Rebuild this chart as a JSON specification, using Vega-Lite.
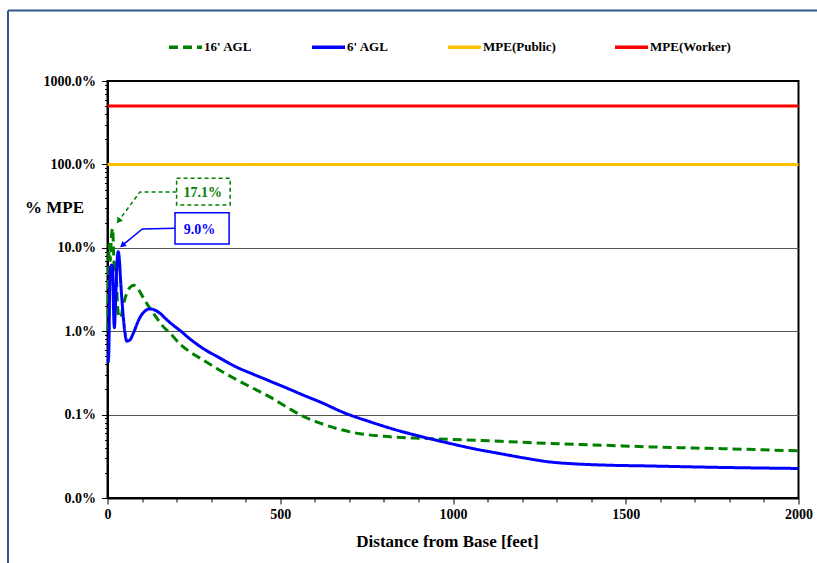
{
  "$schema": "https://vega.github.io/schema/vega-lite/v6.json",
  "width": 691,
  "height": 417,
  "autosize": "none",
  "padding": {"left": 107.5, "top": 81, "right": 18.5, "bottom": 65},
  "background": "white",
  "config": {
    "font": "Liberation Serif",
    "view": {"stroke": "black", "strokeWidth": 2},
    "axis": {
      "labelFont": "Liberation Serif",
      "labelFontWeight": "bold",
      "labelFontSize": 14,
      "labelColor": "black",
      "titleFont": "Liberation Serif",
      "titleFontWeight": "bold",
      "titleFontSize": 17,
      "titleColor": "black",
      "tickColor": "black",
      "domainColor": "black",
      "domainWidth": 2
    },
    "legend": {
      "orient": "none",
      "legendX": 59.5,
      "legendY": -52.5,
      "direction": "horizontal",
      "symbolType": "stroke",
      "symbolSize": 1089,
      "symbolStrokeWidth": 3.5,
      "labelFont": "Liberation Serif",
      "labelFontWeight": "bold",
      "labelFontSize": 13,
      "labelColor": "black",
      "labelOffset": 0,
      "columnPadding": 52,
      "gridAlign": "each",
      "padding": 0
    }
  },
  "datasets": {
    "curves": [
      {"s": "16' AGL", "ft": 1, "pct": 1.0},
      {"s": "16' AGL", "ft": 3, "pct": 4.5},
      {"s": "16' AGL", "ft": 5, "pct": 11},
      {"s": "16' AGL", "ft": 8, "pct": 7},
      {"s": "16' AGL", "ft": 11, "pct": 13},
      {"s": "16' AGL", "ft": 15, "pct": 17.1},
      {"s": "16' AGL", "ft": 18, "pct": 8},
      {"s": "16' AGL", "ft": 21, "pct": 5},
      {"s": "16' AGL", "ft": 24, "pct": 7},
      {"s": "16' AGL", "ft": 28, "pct": 2.5},
      {"s": "16' AGL", "ft": 33, "pct": 1.5},
      {"s": "16' AGL", "ft": 38, "pct": 1.45},
      {"s": "16' AGL", "ft": 45, "pct": 2.0},
      {"s": "16' AGL", "ft": 55, "pct": 2.8},
      {"s": "16' AGL", "ft": 65, "pct": 3.35},
      {"s": "16' AGL", "ft": 76, "pct": 3.55},
      {"s": "16' AGL", "ft": 90, "pct": 3.15},
      {"s": "16' AGL", "ft": 104, "pct": 2.5},
      {"s": "16' AGL", "ft": 122, "pct": 1.9},
      {"s": "16' AGL", "ft": 142, "pct": 1.45},
      {"s": "16' AGL", "ft": 160, "pct": 1.15},
      {"s": "16' AGL", "ft": 181, "pct": 0.95},
      {"s": "16' AGL", "ft": 210, "pct": 0.7},
      {"s": "16' AGL", "ft": 240, "pct": 0.56},
      {"s": "16' AGL", "ft": 277, "pct": 0.45},
      {"s": "16' AGL", "ft": 320, "pct": 0.35},
      {"s": "16' AGL", "ft": 374, "pct": 0.262},
      {"s": "16' AGL", "ft": 420, "pct": 0.208},
      {"s": "16' AGL", "ft": 471, "pct": 0.162},
      {"s": "16' AGL", "ft": 520, "pct": 0.122},
      {"s": "16' AGL", "ft": 567, "pct": 0.095},
      {"s": "16' AGL", "ft": 615, "pct": 0.079},
      {"s": "16' AGL", "ft": 664, "pct": 0.068},
      {"s": "16' AGL", "ft": 720, "pct": 0.06},
      {"s": "16' AGL", "ft": 800, "pct": 0.055},
      {"s": "16' AGL", "ft": 900, "pct": 0.052},
      {"s": "16' AGL", "ft": 992, "pct": 0.0505},
      {"s": "16' AGL", "ft": 1140, "pct": 0.0478},
      {"s": "16' AGL", "ft": 1282, "pct": 0.045},
      {"s": "16' AGL", "ft": 1430, "pct": 0.043},
      {"s": "16' AGL", "ft": 1571, "pct": 0.041},
      {"s": "16' AGL", "ft": 1780, "pct": 0.039},
      {"s": "16' AGL", "ft": 2000, "pct": 0.0368},
      {"s": "6' AGL", "ft": 2, "pct": 0.42},
      {"s": "6' AGL", "ft": 4, "pct": 0.6},
      {"s": "6' AGL", "ft": 6, "pct": 2.5},
      {"s": "6' AGL", "ft": 9, "pct": 5.8},
      {"s": "6' AGL", "ft": 12, "pct": 6.2},
      {"s": "6' AGL", "ft": 15, "pct": 5.5},
      {"s": "6' AGL", "ft": 18, "pct": 1.5},
      {"s": "6' AGL", "ft": 20, "pct": 1.1},
      {"s": "6' AGL", "ft": 23, "pct": 2},
      {"s": "6' AGL", "ft": 27, "pct": 6},
      {"s": "6' AGL", "ft": 31, "pct": 9.0},
      {"s": "6' AGL", "ft": 34, "pct": 7.5},
      {"s": "6' AGL", "ft": 38, "pct": 4},
      {"s": "6' AGL", "ft": 44, "pct": 1.8},
      {"s": "6' AGL", "ft": 50, "pct": 1.0},
      {"s": "6' AGL", "ft": 56, "pct": 0.76},
      {"s": "6' AGL", "ft": 64, "pct": 0.78},
      {"s": "6' AGL", "ft": 75, "pct": 0.95},
      {"s": "6' AGL", "ft": 88, "pct": 1.3},
      {"s": "6' AGL", "ft": 100, "pct": 1.6},
      {"s": "6' AGL", "ft": 123, "pct": 1.85},
      {"s": "6' AGL", "ft": 147, "pct": 1.7},
      {"s": "6' AGL", "ft": 171, "pct": 1.38},
      {"s": "6' AGL", "ft": 190, "pct": 1.18},
      {"s": "6' AGL", "ft": 210, "pct": 1.02},
      {"s": "6' AGL", "ft": 240, "pct": 0.8},
      {"s": "6' AGL", "ft": 277, "pct": 0.62},
      {"s": "6' AGL", "ft": 320, "pct": 0.49},
      {"s": "6' AGL", "ft": 374, "pct": 0.37},
      {"s": "6' AGL", "ft": 420, "pct": 0.307},
      {"s": "6' AGL", "ft": 471, "pct": 0.251},
      {"s": "6' AGL", "ft": 520, "pct": 0.207},
      {"s": "6' AGL", "ft": 567, "pct": 0.171},
      {"s": "6' AGL", "ft": 620, "pct": 0.139},
      {"s": "6' AGL", "ft": 683, "pct": 0.106},
      {"s": "6' AGL", "ft": 760, "pct": 0.082},
      {"s": "6' AGL", "ft": 838, "pct": 0.065},
      {"s": "6' AGL", "ft": 920, "pct": 0.053},
      {"s": "6' AGL", "ft": 992, "pct": 0.045},
      {"s": "6' AGL", "ft": 1060, "pct": 0.039},
      {"s": "6' AGL", "ft": 1137, "pct": 0.034},
      {"s": "6' AGL", "ft": 1210, "pct": 0.030},
      {"s": "6' AGL", "ft": 1282, "pct": 0.027},
      {"s": "6' AGL", "ft": 1350, "pct": 0.0257},
      {"s": "6' AGL", "ft": 1426, "pct": 0.0249},
      {"s": "6' AGL", "ft": 1571, "pct": 0.0242},
      {"s": "6' AGL", "ft": 1765, "pct": 0.0233},
      {"s": "6' AGL", "ft": 2000, "pct": 0.0226},
      {"s": "MPE(Public)", "ft": 0, "pct": 100},
      {"s": "MPE(Public)", "ft": 2000, "pct": 100},
      {"s": "MPE(Worker)", "ft": 0, "pct": 500},
      {"s": "MPE(Worker)", "ft": 2000, "pct": 500}
    ]
  },
  "resolve": {"axis": {"x": "independent"}},
  "layer": [
    {
      "layer": [
        {
          "data": {"name": "curves"},
          "mark": {"type": "line", "strokeWidth": 3, "interpolate": "monotone"},
          "encoding": {
            "x": {
              "field": "ft",
              "type": "quantitative",
              "scale": {"type": "linear", "domain": [0, 2000], "nice": false, "zero": false},
              "axis": {
                "title": "Distance from Base [feet]",
                "orient": "bottom",
                "values": [0, 500, 1000, 1500, 2000],
                "format": "d",
                "labelFlush": false,
                "labelOverlap": false,
                "grid": false,
                "tickSize": 6,
                "labelPadding": 3,
                "titleX": 339.5,
                "titleY": 43,
                "titleBaseline": "middle"
              }
            },
            "y": {
              "field": "pct",
              "type": "quantitative",
              "scale": {"type": "log", "domain": [0.01, 1000], "nice": false},
              "axis": {
                "title": "% MPE",
                "values": [0.01, 0.02, 0.03, 0.04, 0.05, 0.06, 0.07, 0.08, 0.09, 0.1, 0.2, 0.3, 0.4, 0.5, 0.6, 0.7, 0.8, 0.9, 1, 2, 3, 4, 5, 6, 7, 8, 9, 10, 20, 30, 40, 50, 60, 70, 80, 90, 100, 200, 300, 400, 500, 600, 700, 800, 900, 1000],
                "labelExpr": "indexof([0.01, 0.1, 1, 10, 100, 1000], datum.value) >= 0 ? format(datum.value, '.1f') + '%' : ''",
                "labelOverlap": "greedy",
                "tickSize": {"condition": {"test": "indexof([0.01, 0.1, 1, 10, 100, 1000], datum.value) >= 0", "value": 6}, "value": 3},
                "labelPadding": 6,
                "grid": true,
                "gridColor": "#555555",
                "gridWidth": 1,
                "gridOpacity": {"condition": {"test": "indexof([0.1, 1, 10], datum.value) >= 0", "value": 1}, "value": 0},
                "titleAngle": 0,
                "titleAlign": "center",
                "titleBaseline": "middle",
                "titleX": -53.5,
                "titleY": 126,
                "titleFontSize": 17
              }
            },
            "color": {
              "field": "s",
              "type": "nominal",
              "title": null,
              "scale": {"domain": ["16' AGL", "6' AGL", "MPE(Public)", "MPE(Worker)"], "range": ["#008000", "#0000FF", "#FFC000", "#FF0000"]}
            },
            "strokeDash": {
              "field": "s",
              "type": "nominal",
              "title": null,
              "scale": {"domain": ["16' AGL", "6' AGL", "MPE(Public)", "MPE(Worker)"], "range": [[9, 5], [1, 0], [1, 0], [1, 0]]}
            }
          }
        },
        {
          "data": {"values": [{}]},
          "mark": {"type": "rule", "color": "#2E5A8A", "strokeWidth": 2},
          "encoding": {"x": {"datum": -288}, "x2": {"datum": 2200}, "y": {"datum": 7000}}
        },
        {
          "data": {"values": [{}]},
          "mark": {"type": "rule", "color": "#2E5A8A", "strokeWidth": 2},
          "encoding": {"x": {"datum": -288}, "y": {"datum": 7000}, "y2": {"datum": 0.00001}}
        },
        {
          "data": {"values": [{"xa": 200, "xb": 355, "ya": 68, "yb": 32.6}]},
          "mark": {"type": "rect", "fillOpacity": 0, "stroke": "#008000", "strokeWidth": 1.5, "strokeDash": [4, 3]},
          "encoding": {
            "x": {"field": "xa", "type": "quantitative"},
            "x2": {"field": "xb"},
            "y": {"field": "ya", "type": "quantitative"},
            "y2": {"field": "yb"}
          }
        },
        {
          "data": {"values": [{"xa": 195.5, "xb": 352, "ya": 26.4, "yb": 11.1}]},
          "mark": {"type": "rect", "fillOpacity": 0, "stroke": "#0000FF", "strokeWidth": 1.5},
          "encoding": {
            "x": {"field": "xa", "type": "quantitative"},
            "x2": {"field": "xb"},
            "y": {"field": "ya", "type": "quantitative"},
            "y2": {"field": "yb"}
          }
        },
        {
          "data": {"values": [{"i": 1, "ft": 200, "pct": 46.7}, {"i": 2, "ft": 94, "pct": 46.7}, {"i": 3, "ft": 32, "pct": 21}]},
          "mark": {"type": "line", "color": "#008000", "strokeWidth": 1.5, "strokeDash": [4, 3]},
          "encoding": {
            "x": {"field": "ft", "type": "quantitative"},
            "y": {"field": "pct", "type": "quantitative"},
            "order": {"field": "i"}
          }
        },
        {
          "data": {"values": [{"i": 1, "ft": 195.5, "pct": 17.1}, {"i": 2, "ft": 100.8, "pct": 16.8}, {"i": 3, "ft": 43, "pct": 10.7}]},
          "mark": {"type": "line", "color": "#0000FF", "strokeWidth": 1.5},
          "encoding": {
            "x": {"field": "ft", "type": "quantitative"},
            "y": {"field": "pct", "type": "quantitative"},
            "order": {"field": "i"}
          }
        },
        {
          "data": {"values": [{"ft": 32, "pct": 21}]},
          "mark": {"type": "point", "shape": "triangle-up", "filled": true, "color": "#008000", "size": 45, "angle": 217, "opacity": 1},
          "encoding": {
            "x": {"field": "ft", "type": "quantitative"},
            "y": {"field": "pct", "type": "quantitative"}
          }
        },
        {
          "data": {"values": [{"ft": 43, "pct": 10.7}]},
          "mark": {"type": "point", "shape": "triangle-up", "filled": true, "color": "#0000FF", "size": 45, "angle": 230.6, "opacity": 1},
          "encoding": {
            "x": {"field": "ft", "type": "quantitative"},
            "y": {"field": "pct", "type": "quantitative"}
          }
        },
        {
          "data": {"values": [{"ft": 276, "pct": 46, "label": "17.1%"}]},
          "mark": {"type": "text", "font": "Liberation Serif", "fontWeight": "bold", "fontSize": 14, "color": "#008000", "align": "center", "baseline": "middle"},
          "encoding": {
            "x": {"field": "ft", "type": "quantitative"},
            "y": {"field": "pct", "type": "quantitative"},
            "text": {"field": "label"}
          }
        },
        {
          "data": {"values": [{"ft": 266, "pct": 16.5, "label": "9.0%"}]},
          "mark": {"type": "text", "font": "Liberation Serif", "fontWeight": "bold", "fontSize": 14, "color": "#0000FF", "align": "center", "baseline": "middle"},
          "encoding": {
            "x": {"field": "ft", "type": "quantitative"},
            "y": {"field": "pct", "type": "quantitative"},
            "text": {"field": "label"}
          }
        }
      ]
    },
    {
      "data": {"values": [{}]},
      "mark": {"type": "rule", "opacity": 0},
      "encoding": {
        "x": {
          "datum": 0,
          "type": "quantitative",
          "axis": {
            "orient": "bottom",
            "title": null,
            "values": [100, 200, 300, 400, 600, 700, 800, 900, 1100, 1200, 1300, 1400, 1600, 1700, 1800, 1900],
            "labels": false,
            "domain": false,
            "grid": false,
            "tickSize": 4,
            "offset": 0
          }
        }
      }
    }
  ]
}
